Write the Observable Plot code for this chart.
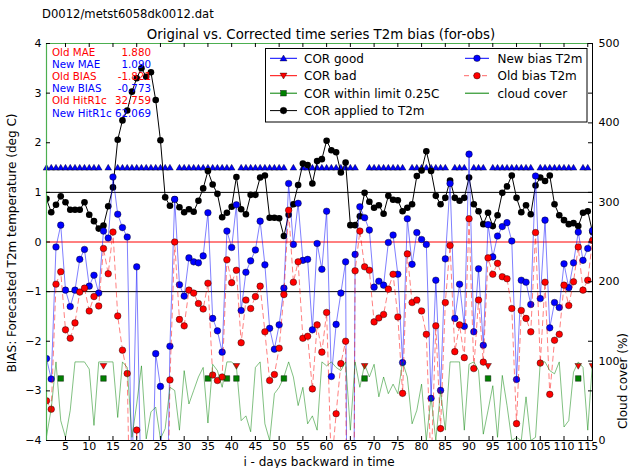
<!DOCTYPE html>
<html><head><meta charset="utf-8">
<script src="https://cdn.jsdelivr.net/npm/d3@7"></script>
<script src="https://cdn.jsdelivr.net/npm/@observablehq/plot@0.6"></script>
<style>
body{margin:0;background:#fff;}
#wrap{position:relative;width:632px;height:468px;font-family:"DejaVu Sans",sans-serif;overflow:hidden;}
.abs{position:absolute;white-space:nowrap;line-height:1;}
</style></head><body><div id="wrap"></div>
<script>
// ---- data ----
const days = d3.range(1, 117);
const corApplied = [0.87,0.60,0.75,0.92,0.80,0.65,0.65,0.65,0.80,0.55,
 0.42,0.27,0.33,0.72,1.10,2.06,2.45,2.65,3.03,3.30,
 3.50,3.33,3.42,2.86,2.05,0.90,0.73,0.86,0.70,0.60,
 0.66,0.61,0.83,1.08,1.43,1.16,0.97,0.50,0.59,0.71,
 1.31,0.66,0.56,0.95,0.95,1.30,1.34,0.49,0.49,0.48,
 0.12,0.55,0.76,1.15,1.58,1.55,1.18,1.63,1.67,2.04,
 1.85,1.81,1.40,1.60,0.34,0.34,0.52,0.99,0.81,0.69,
 0.74,0.57,0.93,0.85,0.84,0.62,0.69,0.76,1.33,1.44,
 1.83,1.43,0.93,0.76,0.89,1.24,0.89,0.83,0.89,1.30,
 0.76,0.62,0.36,0.59,0.32,0.54,0.99,1.12,1.34,0.89,
 0.60,0.74,0.56,1.14,1.30,1.23,1.34,0.76,0.54,0.44,
 0.36,0.38,0.32,0.59,0.62,0.20];
const oldBias = [-3.20,-3.37,-0.85,-0.60,-1.77,-1.94,-1.63,-1.01,-0.93,-1.39,
 -1.10,-1.29,-0.13,-0.64,0.20,-1.49,-2.18,-2.65,-7.8,-3.79,
 -9.0,-9.3,-9.4,-5.11,-4.96,-9.0,-2.78,0.00,-1.56,-1.69,
 -0.97,-1.03,-1.24,-1.35,-0.83,-2.68,-2.79,-2.72,-0.36,-0.82,
 -0.57,-2.03,-1.17,-1.34,-1.10,-0.89,-1.81,-2.79,-2.67,-2.14,
 -1.06,0.64,-0.81,-0.40,-1.94,-1.90,-2.96,-1.67,-2.22,-1.42,
 -4.56,-3.46,-2.45,-2.00,-20,-0.58,0.22,-0.50,-0.57,-1.61,
 -1.53,-1.46,-0.95,-0.65,-1.51,-3.05,-0.24,-1.22,-1.17,-1.39,
 -1.86,-4.58,-1.69,-3.76,-1.22,-0.07,-2.21,-1.67,-2.33,0.47,
 -2.55,-1.17,-2.42,-0.32,-0.65,-0.43,-0.70,-0.74,-1.34,-3.66,
 -1.38,-1.54,-1.81,0.19,-2.44,-0.81,-3.07,-1.98,-1.86,-0.87,
 -1.28,-0.80,-0.10,-0.97,-0.77,0.03];
const newBias = [-2.35,-2.76,-0.10,0.34,-0.97,-1.30,-0.97,-0.35,-0.15,-0.89,
 -0.67,-1.03,0.22,0.08,1.31,0.56,0.29,0.10,-4.8,-0.50,
 -5.5,-6.0,-6.0,-2.25,-2.91,-8.1,-2.10,0.86,-0.86,-1.09,
 -0.32,-0.40,-0.42,-0.28,0.59,-1.54,-1.79,-2.22,0.22,-0.11,
 0.75,-1.38,-0.61,-0.38,-0.16,0.42,-0.46,-1.74,-2.16,-1.67,
 -0.93,1.18,-0.05,0.78,-0.37,-0.35,-1.77,-0.03,-0.55,0.62,
 -2.71,-1.66,-1.03,-0.40,-19.7,-0.25,0.71,0.49,0.24,-0.91,
 -0.79,-0.87,-0.01,0.14,-0.65,-2.43,0.47,-0.45,0.19,0.05,
 -0.05,-3.15,-0.77,-2.99,-0.34,1.18,-1.54,-0.85,-1.70,1.77,
 -1.81,-0.54,-2.08,0.35,-0.30,0.12,0.31,0.39,0.02,-2.77,
 -0.77,-0.81,-1.26,1.33,-1.14,0.44,-1.73,-1.22,-1.32,-0.44,
 -0.92,-0.42,0.20,-0.37,-0.13,0.23];
const cloudCover = [5,40,99,25,4,38,99,99,99,90,
 19,99,99,99,99,29,99,92,4,46,
 94,2,36,42,2,15,67,63,13,88,
 46,63,80,92,22,96,88,67,99,99,
 93,25,31,11,92,99,21,0,59,67,
 80,99,80,44,67,21,31,13,99,94,
 99,92,88,99,13,99,67,96,80,96,
 55,80,59,71,59,99,80,21,38,71,
 0,55,0,63,13,99,99,99,13,96,
 99,88,8,38,69,4,82,44,0,4,
 0,55,0,4,99,99,88,84,99,17,
 25,86,99,92,13,99];
const corGoodDays = [1,2,3,4,5,6,7,8,9,10,11,12,14,16,17,18,19,20,21,22,23,24,25,26,27,
 29,30,31,32,33,34,35,36,37,38,39,40,42,43,44,45,46,47,48,49,50,51,53,
 55,56,57,58,59,60,61,62,63,64,65,66,69,70,71,72,73,74,75,76,78,79,80,81,82,83,84,85,
 87,88,89,91,92,93,95,96,97,98,99,100,101,102,103,105,106,107,108,109,110,111,112,114,115];
const corBadDays = [13,41,68,94,113,116];
const corWithinDays = [4,13,35,39,41,51,68,94,113];
const goodLevel = 1.5, badLevel = -2.5, withinLevel = -2.75;
const xTicks = d3.range(5, 116, 5);
const yTicks = d3.range(-4, 5);
const cloudTicks = [0, 100, 200, 300, 400, 500];
const statLabels = ["Old MAE", "New MAE", "Old BIAS", "New BIAS", "Old HitR1c", "New HitR1c"];
const statValues = ["1.880", "1.090", "-1.821", "-0.773", "32.759", "62.069"];
const statColors = ["#ff0000", "#0000ff", "#ff0000", "#0000ff", "#ff0000", "#0000ff"];
const legendLeft = ["COR good", "COR bad", "COR within limit 0.25C", "COR applied to T2m"];
const legendRight = ["New bias T2m", "Old bias T2m", "cloud cover"];
const fileTitle = "D0012/metst6058dk0012.dat";
const chartTitle = "Original vs. Corrected time series T2m bias (for-obs)";
const xLabel = "i - days backward in time";
const yLabel = "BIAS: Forecasted T2m temperature (deg C)";
const y2Label = "Cloud cover (%)";

// ---- layout ----
const W = 632, H = 468, mL = 46, mR = 40, mT = 43, mB = 28;
const fw = W - mL - mR, fh = H - mT - mB;
const cloudToY = c => -4 + c * 8 / 500;
const rows = days.map((d, i) => ({day: d, cor: corApplied[i], nw: newBias[i], old: oldBias[i], cloud: cloudToY(cloudCover[i])}));

const triSym = dir => ({draw(ctx, size) {
  const r = Math.sqrt(size / Math.PI);
  const w = r * 1.05, h = r * 1.0;
  if (dir > 0) { ctx.moveTo(0, -h); ctx.lineTo(w, h * 0.8); ctx.lineTo(-w, h * 0.8); }
  else { ctx.moveTo(0, h); ctx.lineTo(w, -h * 0.8); ctx.lineTo(-w, -h * 0.8); }
  ctx.closePath();
}});
const sqSym = {draw(ctx, size) { const r = Math.sqrt(size / Math.PI) * 0.85; ctx.rect(-r, -r, 2 * r, 2 * r); }};
const minus = d => d < 0 ? "\u2212" + (-d) : String(d);

const chart = Plot.plot({
  width: W, height: H,
  marginLeft: mL, marginRight: mR, marginTop: mT, marginBottom: mB,
  x: {domain: [1, 116]},
  y: {domain: [-4, 4]},
  style: {fontFamily: "DejaVu Sans", fontSize: "11px", background: "white", color: "black", overflow: "visible"},
  marks: [
    Plot.ruleY([1, -1], {stroke: "#000", strokeWidth: 1}),
    Plot.ruleY([0], {stroke: "#ff0000", strokeWidth: 1}),
    Plot.dot(corGoodDays, {x: d => d, y: () => goodLevel, symbol: triSym(1), r: 3.2, fill: "#0000ff", stroke: "#000", strokeWidth: 0.4}),
    Plot.dot(corBadDays, {x: d => d, y: () => badLevel, symbol: triSym(-1), r: 3.2, fill: "#ff0000", stroke: "#000", strokeWidth: 0.4, clip: true}),
    Plot.dot(corWithinDays, {x: d => d, y: () => withinLevel, symbol: sqSym, r: 3.3, fill: "#008000", stroke: "#000", strokeWidth: 0.4}),
    Plot.line(rows, {x: "day", y: "cor", stroke: "#000", strokeWidth: 1, clip: true}),
    Plot.dot(rows, {x: "day", y: "cor", r: 3.3, fill: "#000", clip: true}),
    Plot.line(rows, {x: "day", y: "nw", stroke: "#0000ff", strokeOpacity: 0.5, strokeWidth: 1, clip: true}),
    Plot.dot(rows, {x: "day", y: "nw", r: 3.3, fill: "#0000ff", stroke: "#000", strokeWidth: 0.4, clip: true}),
    Plot.line(rows, {x: "day", y: "old", stroke: "#ff0000", strokeOpacity: 0.5, strokeWidth: 1, strokeDasharray: "5,4", clip: true}),
    Plot.dot(rows, {x: "day", y: "old", r: 3.3, fill: "#ff0000", stroke: "#000", strokeWidth: 0.4, clip: true}),
    Plot.line(rows, {x: "day", y: "cloud", stroke: "#008000", strokeOpacity: 0.55, strokeWidth: 0.9, clip: true}),
    Plot.frame({stroke: "#000", strokeWidth: 1}),
    Plot.ruleY([4], {stroke: "#4caf50", strokeWidth: 1.2}),
    Plot.ruleX([1], {stroke: "#4caf50", strokeWidth: 1.2}),
    Plot.tickX(xTicks, {x: d => d, insetTop: fh - 4, stroke: "#000"}),
    Plot.tickX(xTicks, {x: d => d, insetBottom: fh - 4, stroke: "#000"}),
    Plot.tickY(yTicks, {y: d => d, insetRight: fw - 4, stroke: "#000"}),
    Plot.tickY(yTicks, {y: d => d, insetLeft: fw - 4, stroke: "#000"}),
    Plot.tickY(cloudTicks.map(cloudToY), {y: d => d, insetLeft: fw - 4, stroke: "#000"}),
    Plot.axisX(xTicks, {anchor: "bottom", tickSize: 0, tickPadding: 2, label: null, fontSize: 11}),
    Plot.axisY(yTicks, {anchor: "left", tickSize: 0, tickPadding: 5, label: null, tickFormat: minus, fontSize: 11}),
    Plot.axisY(cloudTicks.map(cloudToY), {anchor: "right", tickSize: 0, tickPadding: 6, label: null, fontSize: 11,
      tickFormat: v => String(Math.round((v + 4) * 500 / 8))})
  ]
});
const wrap = document.getElementById("wrap");
chart.style.position = "absolute"; chart.style.left = "0"; chart.style.top = "0";
wrap.appendChild(chart);

function addText(txt, x, cy, fs, opts = {}) {
  const d = document.createElement("div");
  d.className = "abs";
  d.textContent = txt;
  d.style.fontSize = fs + "px";
  d.style.left = x + "px";
  d.style.top = (cy - fs / 2) + "px";
  d.style.color = opts.color || "#000";
  let t = "";
  if (opts.anchor === "middle") t += "translateX(-50%) ";
  if (opts.anchor === "end") t += "translateX(-100%) ";
  d.style.transform = t;
  wrap.appendChild(d);
  return d;
}
function addRotated(txt, cx, cy, fs) {
  const d = document.createElement("div");
  d.className = "abs";
  d.textContent = txt;
  d.style.fontSize = fs + "px";
  d.style.left = cx + "px";
  d.style.top = cy + "px";
  d.style.transform = "translate(-50%,-50%) rotate(-90deg)";
  wrap.appendChild(d);
}
addText(fileTitle, 42, 15, 11.6);
addText(chartTitle, 321, 35, 13.3, {anchor: "middle"});
addText(xLabel, 319, 461.5, 12, {anchor: "middle"});
addRotated(yLabel, 12, 243, 12);
addRotated(y2Label, 623, 381, 12);

const statY = [51.7, 64, 76.2, 88.3, 100.5, 112.7];
statLabels.forEach((s, i) => {
  addText(s, 52, statY[i], 10.3, {color: statColors[i]});
  addText(statValues[i], 151, statY[i], 10.3, {color: statColors[i], anchor: "end"});
});

// legend
const ns = "http://www.w3.org/2000/svg";
const lg = document.createElementNS(ns, "svg");
lg.setAttribute("width", W); lg.setAttribute("height", H);
lg.style.position = "absolute"; lg.style.left = "0"; lg.style.top = "0";
wrap.appendChild(lg);
function el(tag, attrs) { const e = document.createElementNS(ns, tag); for (const k in attrs) e.setAttribute(k, attrs[k]); lg.appendChild(e); return e; }
el("rect", {x: 265.5, y: 48.5, width: 321.5, height: 73.5, fill: "#fff", stroke: "#000", "stroke-width": 1});
const rowY = [58.3, 75.7, 93.2, 110.6];
const leftStyles = [
  {c: "#0000ff", m: "tri"}, {c: "#ff0000", m: "tridown"}, {c: "#008000", m: "sq"}, {c: "#000", m: "circ"}];
const rightStyles = [{c: "#0000ff", m: "circ"}, {c: "#ff0000", m: "circ", dash: true}, {c: "#008000", m: null}];
function marker(m, cx, cy, c) {
  if (m === "circ") el("circle", {cx, cy, r: 3.3, fill: c, stroke: "#000", "stroke-width": 0.4});
  if (m === "tri") el("path", {d: `M${cx},${cy - 3.3}L${cx + 3.5},${cy + 2.6}L${cx - 3.5},${cy + 2.6}Z`, fill: c, stroke: "#000", "stroke-width": 0.4});
  if (m === "tridown") el("path", {d: `M${cx},${cy + 3.3}L${cx + 3.5},${cy - 2.6}L${cx - 3.5},${cy - 2.6}Z`, fill: c, stroke: "#000", "stroke-width": 0.4});
  if (m === "sq") el("rect", {x: cx - 2.8, y: cy - 2.8, width: 5.6, height: 5.6, fill: c, stroke: "#000", "stroke-width": 0.4});
}
legendLeft.forEach((t, i) => {
  const s = leftStyles[i];
  el("line", {x1: 270, x2: 297, y1: rowY[i], y2: rowY[i], stroke: s.c, "stroke-width": 1});
  marker(s.m, 283.5, rowY[i], s.c);
  const tx = el("text", {x: 304, y: rowY[i], dy: "0.36em", "font-size": 12, "font-family": "DejaVu Sans"});
  tx.textContent = t;
});
legendRight.forEach((t, i) => {
  const s = rightStyles[i];
  const ln = el("line", {x1: 465, x2: 489, y1: rowY[i], y2: rowY[i], stroke: s.c, "stroke-width": 1});
  if (s.dash) { ln.setAttribute("stroke-dasharray", "5,4"); ln.setAttribute("stroke-opacity", 0.6); ln.setAttribute("x1", 464); }
  if (s.m) marker(s.m, 477, rowY[i], s.c);
  const tx = el("text", {x: 497.5, y: rowY[i], dy: "0.36em", "font-size": 12, "font-family": "DejaVu Sans"});
  tx.textContent = t;
});
</script></body></html>
